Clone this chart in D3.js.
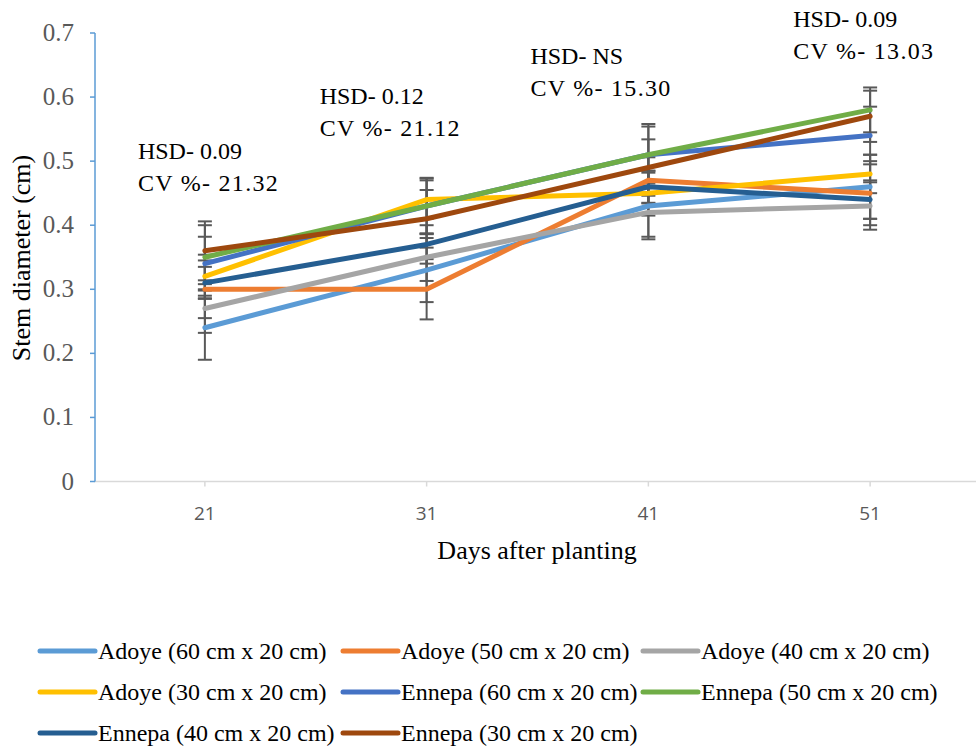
<!DOCTYPE html>
<html><head><meta charset="utf-8">
<script src="https://cdn.jsdelivr.net/npm/d3@7"></script>
<style>body{margin:0;background:#fff}svg{display:block}</style>
</head><body>
<script>
const days = ["21", "31", "41", "51"];
const seriesNames = ["Adoye (60 cm x 20 cm)", "Adoye (50 cm x 20 cm)", "Adoye (40 cm x 20 cm)",
  "Adoye (30 cm x 20 cm)", "Ennepa (60 cm x 20 cm)", "Ennepa (50 cm x 20 cm)",
  "Ennepa (40 cm x 20 cm)", "Ennepa (30 cm x 20 cm)"];
const seriesColors = ["#5B9BD5", "#ED7D31", "#A5A5A5", "#FFC000", "#4472C4", "#70AD47", "#255E91", "#9E480E"];
const adoye60 = [0.24, 0.33, 0.43, 0.46];
const adoye50 = [0.30, 0.30, 0.47, 0.45];
const adoye40 = [0.27, 0.35, 0.42, 0.43];
const adoye30 = [0.32, 0.44, 0.45, 0.48];
const ennepa60 = [0.34, 0.43, 0.51, 0.54];
const ennepa50 = [0.35, 0.43, 0.51, 0.58];
const ennepa40 = [0.31, 0.37, 0.46, 0.44];
const ennepa30 = [0.36, 0.41, 0.49, 0.57];
const err_adoye60 = [0.05, 0.05, 0.052, 0.05];
const err_adoye50 = [0.045, 0.047, 0.036, 0.05];
const err_adoye40 = [0.038, 0.037, 0.038, 0.037];
const err_adoye30 = [0.034, 0.03, 0.035, 0.03];
const err_ennepa60 = [0.042, 0.043, 0.048, 0.045];
const err_ennepa50 = [0.05, 0.044, 0.044, 0.035];
const err_ennepa40 = [0.025, 0.03, 0.025, 0.03];
const err_ennepa30 = [0.046, 0.045, 0.044, 0.04];
const yTicks = [0, 0.1, 0.2, 0.3, 0.4, 0.5, 0.6, 0.7];
const hsdLabels = ["HSD- 0.09", "HSD- 0.12", "HSD- NS", "HSD- 0.09"];
const cvLabels = ["CV %- 21.32", "CV %- 21.12", "CV %- 15.30", "CV %- 13.03"];

const values = [adoye60, adoye50, adoye40, adoye30, ennepa60, ennepa50, ennepa40, ennepa30];
const errors = [err_adoye60, err_adoye50, err_adoye40, err_adoye30, err_ennepa60, err_ennepa50, err_ennepa40, err_ennepa30];
const series = seriesNames.map((n, i) => ({name: n, color: seriesColors[i],
  pts: days.map((d, j) => ({d, v: values[i][j], e: errors[i][j]}))}));

const W = 976, H = 751;
const serif = "'Liberation Serif', 'Times New Roman', serif";
const svg = d3.select("body").append("svg").attr("width", W).attr("height", H);

const x = d3.scaleBand().domain(days).range([94, 981]).padding(0);
const xc = d => x(d) + x.bandwidth() / 2;
const y = d3.scaleLinear().domain([0, 0.7]).range([481.5, 33]);

// x axis line
svg.append("line").attr("x1", 94).attr("x2", W).attr("y1", y(0)).attr("y2", y(0))
  .attr("stroke", "#D9D9D9").attr("stroke-width", 1.5);
svg.selectAll(".xt").data(days).enter().append("line")
  .attr("x1", d => xc(d)).attr("x2", d => xc(d)).attr("y1", y(0)).attr("y2", y(0) + 5)
  .attr("stroke", "#D9D9D9").attr("stroke-width", 1.5);
svg.selectAll(".xl").data(days).enter().append("text")
  .attr("x", d => xc(d)).attr("y", 520).attr("text-anchor", "middle")
  .attr("font-family", "'Open Sans', sans-serif").attr("font-size", 19).attr("fill", "#595959")
  .text(d => d);

// y axis
svg.append("line").attr("x1", 95).attr("x2", 95).attr("y1", y(0.7)).attr("y2", y(0))
  .attr("stroke", "#5B9BD5").attr("stroke-width", 1.5);
svg.selectAll(".yt").data(yTicks).enter().append("line")
  .attr("x1", 90).attr("x2", 95).attr("y1", d => y(d)).attr("y2", d => y(d))
  .attr("stroke", "#5B9BD5").attr("stroke-width", 1.5);
svg.selectAll(".yl").data(yTicks).enter().append("text")
  .attr("x", 74).attr("y", d => y(d) + 8).attr("text-anchor", "end")
  .attr("font-family", serif).attr("font-size", 25).attr("fill", "#595959")
  .text(d => d === 0 ? "0" : d.toFixed(1));

// error bars
const eb = svg.append("g").attr("stroke", "#595959").attr("stroke-width", 2);
series.forEach(s => {
  s.pts.forEach(p => {
    eb.append("line").attr("x1", xc(p.d)).attr("x2", xc(p.d)).attr("y1", y(p.v - p.e)).attr("y2", y(p.v + p.e));
    [p.v - p.e, p.v + p.e].forEach(v => eb.append("line")
      .attr("x1", xc(p.d) - 7).attr("x2", xc(p.d) + 7).attr("y1", y(v)).attr("y2", y(v)));
  });
});

// lines
const line = d3.line().x(p => xc(p.d)).y(p => y(p.v));
series.forEach(s => {
  svg.append("path").datum(s.pts).attr("d", line).attr("fill", "none")
    .attr("stroke", s.color).attr("stroke-width", 5).attr("stroke-linecap", "round").attr("stroke-linejoin", "round");
});

// annotations
const annDx = [-67, -107, -118, -77];
const annY = [0.503, 0.589, 0.652, 0.709];
days.forEach((d, i) => {
  const g = svg.append("text").attr("font-family", serif).attr("font-size", 24).attr("fill", "#000");
  g.append("tspan").attr("x", xc(d) + annDx[i]).attr("y", y(annY[i])).text(hsdLabels[i]);
  g.append("tspan").attr("x", xc(d) + annDx[i]).attr("y", y(annY[i]) + 32)
    .attr("letter-spacing", 1.3).text(cvLabels[i]);
});

// axis titles
svg.append("text").attr("x", 537).attr("y", 559).attr("text-anchor", "middle")
  .attr("font-family", serif).attr("font-size", 26).text("Days after planting");
svg.append("text").attr("transform", "translate(30,258) rotate(-90)").attr("text-anchor", "middle")
  .attr("font-family", serif).attr("font-size", 26).text("Stem diameter (cm)");

// legend
const legCols = [40, 343, 643], legRows = [651, 692, 733];
series.forEach((s, i) => {
  const lx = legCols[i % 3], ly = legRows[Math.floor(i / 3)];
  svg.append("line").attr("x1", lx).attr("x2", lx + 55).attr("y1", ly).attr("y2", ly)
    .attr("stroke", s.color).attr("stroke-width", 5).attr("stroke-linecap", "round");
  svg.append("text").attr("x", lx + 58).attr("y", ly + 8)
    .attr("font-family", serif).attr("font-size", 24).text(s.name);
});
</script>
</body></html>
